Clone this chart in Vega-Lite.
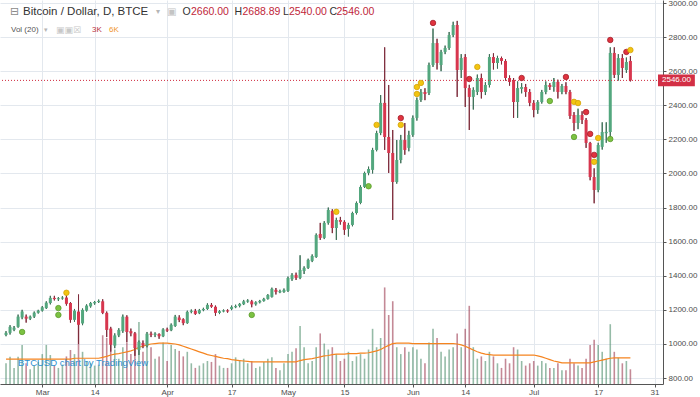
{
"$schema": "https://vega.github.io/schema/vega-lite/v6.json",
"width": 663, "height": 384,
"autosize": {"type": "none"},
"padding": {"left": 0, "top": 0, "right": 37, "bottom": 13},
"background": "#ffffff",
"config": {"view": {"stroke": null}, "font": "Liberation Sans",
  "axis": {"labelFont": "Liberation Sans", "labelFontSize": 8, "labelColor": "#4d4d4d", "gridColor": "#e3e8ee", "domainColor": "#555555", "tickColor": "#555555"}},
"datasets": {
"candles": [
{"d":"2017-02-20","o":1052,"h":1075,"l":1045,"c":1065,"v":4.5,"m":5.4},
{"d":"2017-02-21","o":1065,"h":1110,"l":1055,"c":1100,"v":5.9,"m":5.4},
{"d":"2017-02-22","o":1083,"h":1105,"l":1075,"c":1095,"v":3.5,"m":5.4},
{"d":"2017-02-23","o":1100,"h":1172,"l":1095,"c":1160,"v":5.9,"m":5.4},
{"d":"2017-02-24","o":1155,"h":1200,"l":1145,"c":1190,"v":8.5,"m":5.4},
{"d":"2017-02-25","o":1160,"h":1172,"l":1125,"c":1148,"v":4.5,"m":5.4},
{"d":"2017-02-26","o":1148,"h":1166,"l":1140,"c":1160,"v":3.2,"m":5.4},
{"d":"2017-02-27","o":1160,"h":1190,"l":1152,"c":1183,"v":4.0,"m":5.4},
{"d":"2017-02-28","o":1183,"h":1200,"l":1178,"c":1195,"v":4.8,"m":5.4},
{"d":"2017-03-01","o":1195,"h":1222,"l":1190,"c":1215,"v":6.5,"m":5.4},
{"d":"2017-03-02","o":1210,"h":1250,"l":1205,"c":1242,"v":8.5,"m":5.4},
{"d":"2017-03-03","o":1240,"h":1282,"l":1232,"c":1270,"v":6.3,"m":5.4},
{"d":"2017-03-04","o":1270,"h":1282,"l":1255,"c":1263,"v":4.0,"m":5.4},
{"d":"2017-03-05","o":1262,"h":1275,"l":1252,"c":1268,"v":3.5,"m":5.4},
{"d":"2017-03-06","o":1266,"h":1280,"l":1260,"c":1272,"v":4.2,"m":5.4},
{"d":"2017-03-07","o":1272,"h":1285,"l":1225,"c":1235,"v":6.0,"m":5.4},
{"d":"2017-03-08","o":1240,"h":1245,"l":1125,"c":1141,"v":7.4,"m":5.4},
{"d":"2017-03-09","o":1141,"h":1205,"l":1130,"c":1195,"v":6.5,"m":5.6},
{"d":"2017-03-10","o":1190,"h":1290,"l":1000,"c":1112,"v":14.0,"m":5.6},
{"d":"2017-03-11","o":1120,"h":1208,"l":1110,"c":1200,"v":7.0,"m":5.6},
{"d":"2017-03-12","o":1195,"h":1232,"l":1190,"c":1225,"v":5.0,"m":5.6},
{"d":"2017-03-13","o":1220,"h":1246,"l":1213,"c":1240,"v":4.5,"m":5.6},
{"d":"2017-03-14","o":1238,"h":1252,"l":1230,"c":1246,"v":4.0,"m":5.6},
{"d":"2017-03-15","o":1246,"h":1260,"l":1240,"c":1252,"v":4.2,"m":5.6},
{"d":"2017-03-16","o":1250,"h":1262,"l":1175,"c":1182,"v":10.6,"m":5.8},
{"d":"2017-03-17","o":1182,"h":1190,"l":1040,"c":1082,"v":10.0,"m":6.0},
{"d":"2017-03-18","o":1090,"h":1100,"l":955,"c":995,"v":12.0,"m":6.3},
{"d":"2017-03-19","o":990,"h":1062,"l":975,"c":1050,"v":7.5,"m":6.5},
{"d":"2017-03-20","o":1050,"h":1092,"l":1040,"c":1082,"v":5.5,"m":6.6},
{"d":"2017-03-21","o":1075,"h":1172,"l":1065,"c":1160,"v":8.0,"m":6.8},
{"d":"2017-03-22","o":1160,"h":1168,"l":1010,"c":1070,"v":9.0,"m":7.0},
{"d":"2017-03-23","o":1075,"h":1090,"l":1045,"c":1062,"v":6.5,"m":7.2},
{"d":"2017-03-24","o":1062,"h":1070,"l":930,"c":975,"v":11.0,"m":7.5},
{"d":"2017-03-25","o":965,"h":1020,"l":935,"c":1012,"v":13.5,"m":8.0},
{"d":"2017-03-26","o":1005,"h":1020,"l":975,"c":990,"v":7.0,"m":8.2},
{"d":"2017-03-27","o":990,"h":1070,"l":980,"c":1060,"v":8.5,"m":8.5},
{"d":"2017-03-28","o":1060,"h":1072,"l":1040,"c":1053,"v":8.0,"m":8.7},
{"d":"2017-03-29","o":1053,"h":1068,"l":1040,"c":1060,"v":5.5,"m":8.8},
{"d":"2017-03-30","o":1058,"h":1062,"l":1030,"c":1045,"v":6.0,"m":8.9},
{"d":"2017-03-31","o":1045,"h":1092,"l":1040,"c":1085,"v":9.0,"m":8.9},
{"d":"2017-04-01","o":1085,"h":1095,"l":1070,"c":1078,"v":5.0,"m":8.9},
{"d":"2017-04-02","o":1080,"h":1120,"l":1075,"c":1112,"v":8.5,"m":8.8},
{"d":"2017-04-03","o":1105,"h":1170,"l":1100,"c":1160,"v":7.6,"m":8.7},
{"d":"2017-04-04","o":1155,"h":1168,"l":1128,"c":1140,"v":7.2,"m":8.5},
{"d":"2017-04-05","o":1145,"h":1150,"l":1110,"c":1122,"v":6.0,"m":8.2},
{"d":"2017-04-06","o":1122,"h":1195,"l":1118,"c":1188,"v":7.0,"m":7.9},
{"d":"2017-04-07","o":1188,"h":1202,"l":1180,"c":1194,"v":4.5,"m":7.6},
{"d":"2017-04-08","o":1194,"h":1205,"l":1170,"c":1176,"v":3.5,"m":7.3},
{"d":"2017-04-09","o":1180,"h":1205,"l":1175,"c":1198,"v":4.0,"m":7.0},
{"d":"2017-04-10","o":1198,"h":1212,"l":1192,"c":1205,"v":4.5,"m":6.7},
{"d":"2017-04-11","o":1205,"h":1238,"l":1200,"c":1229,"v":5.0,"m":6.4},
{"d":"2017-04-12","o":1229,"h":1240,"l":1212,"c":1218,"v":4.8,"m":6.2},
{"d":"2017-04-13","o":1218,"h":1225,"l":1165,"c":1182,"v":6.5,"m":6.0},
{"d":"2017-04-14","o":1182,"h":1198,"l":1175,"c":1192,"v":4.0,"m":5.8},
{"d":"2017-04-15","o":1190,"h":1202,"l":1186,"c":1197,"v":3.5,"m":5.6},
{"d":"2017-04-16","o":1197,"h":1203,"l":1183,"c":1190,"v":3.5,"m":5.5},
{"d":"2017-04-17","o":1205,"h":1225,"l":1198,"c":1217,"v":4.5,"m":5.3},
{"d":"2017-04-18","o":1215,"h":1230,"l":1210,"c":1222,"v":5.8,"m":5.2},
{"d":"2017-04-19","o":1223,"h":1240,"l":1215,"c":1235,"v":5.0,"m":5.1},
{"d":"2017-04-20","o":1233,"h":1258,"l":1228,"c":1250,"v":5.5,"m":5.0},
{"d":"2017-04-21","o":1248,"h":1262,"l":1242,"c":1255,"v":4.5,"m":4.9},
{"d":"2017-04-22","o":1250,"h":1258,"l":1215,"c":1232,"v":5.0,"m":4.8},
{"d":"2017-04-23","o":1232,"h":1250,"l":1225,"c":1244,"v":3.5,"m":4.8},
{"d":"2017-04-24","o":1244,"h":1258,"l":1238,"c":1252,"v":3.8,"m":4.8},
{"d":"2017-04-25","o":1252,"h":1270,"l":1248,"c":1264,"v":4.8,"m":4.8},
{"d":"2017-04-26","o":1264,"h":1292,"l":1260,"c":1287,"v":5.5,"m":4.8},
{"d":"2017-04-27","o":1276,"h":1330,"l":1272,"c":1323,"v":5.8,"m":4.8},
{"d":"2017-04-28","o":1317,"h":1328,"l":1290,"c":1305,"v":3.5,"m":4.8},
{"d":"2017-04-29","o":1303,"h":1318,"l":1298,"c":1310,"v":3.0,"m":4.8},
{"d":"2017-04-30","o":1305,"h":1325,"l":1300,"c":1317,"v":4.5,"m":4.8},
{"d":"2017-05-01","o":1311,"h":1395,"l":1305,"c":1387,"v":6.5,"m":4.8},
{"d":"2017-05-02","o":1380,"h":1415,"l":1370,"c":1405,"v":7.0,"m":4.8},
{"d":"2017-05-03","o":1405,"h":1418,"l":1375,"c":1387,"v":7.8,"m":4.8},
{"d":"2017-05-04","o":1387,"h":1520,"l":1380,"c":1434,"v":12.6,"m":5.1},
{"d":"2017-05-05","o":1428,"h":1455,"l":1410,"c":1446,"v":8.0,"m":5.3},
{"d":"2017-05-06","o":1446,"h":1500,"l":1440,"c":1493,"v":4.5,"m":5.4},
{"d":"2017-05-07","o":1487,"h":1525,"l":1480,"c":1516,"v":5.0,"m":5.5},
{"d":"2017-05-08","o":1510,"h":1648,"l":1505,"c":1639,"v":8.0,"m":5.7},
{"d":"2017-05-09","o":1645,"h":1710,"l":1610,"c":1622,"v":11.0,"m":5.9},
{"d":"2017-05-10","o":1622,"h":1720,"l":1615,"c":1710,"v":8.8,"m":6.1},
{"d":"2017-05-11","o":1710,"h":1800,"l":1700,"c":1786,"v":7.5,"m":6.2},
{"d":"2017-05-12","o":1780,"h":1790,"l":1650,"c":1680,"v":8.0,"m":6.4},
{"d":"2017-05-13","o":1680,"h":1740,"l":1610,"c":1727,"v":6.5,"m":6.5},
{"d":"2017-05-14","o":1727,"h":1745,"l":1700,"c":1716,"v":5.0,"m":6.5},
{"d":"2017-05-15","o":1716,"h":1725,"l":1640,"c":1669,"v":5.5,"m":6.5},
{"d":"2017-05-16","o":1675,"h":1710,"l":1630,"c":1698,"v":7.0,"m":6.6},
{"d":"2017-05-17","o":1698,"h":1775,"l":1690,"c":1768,"v":5.0,"m":6.6},
{"d":"2017-05-18","o":1768,"h":1835,"l":1760,"c":1827,"v":6.0,"m":6.6},
{"d":"2017-05-19","o":1827,"h":1930,"l":1820,"c":1921,"v":6.5,"m":6.7},
{"d":"2017-05-20","o":1921,"h":2010,"l":1915,"c":2003,"v":5.5,"m":6.7},
{"d":"2017-05-21","o":2003,"h":2040,"l":1990,"c":2026,"v":7.5,"m":6.8},
{"d":"2017-05-22","o":2021,"h":2150,"l":2000,"c":2138,"v":12.0,"m":7.0},
{"d":"2017-05-23","o":2138,"h":2250,"l":2130,"c":2237,"v":8.0,"m":7.2},
{"d":"2017-05-24","o":2237,"h":2460,"l":2225,"c":2414,"v":10.0,"m":7.5},
{"d":"2017-05-25","o":2414,"h":2740,"l":2138,"c":2214,"v":21.0,"m":8.0},
{"d":"2017-05-26","o":2214,"h":2519,"l":2003,"c":2120,"v":15.0,"m":8.4},
{"d":"2017-05-27","o":2120,"h":2255,"l":1727,"c":1950,"v":18.0,"m":8.8},
{"d":"2017-05-28","o":1950,"h":2196,"l":1940,"c":2079,"v":8.0,"m":8.9},
{"d":"2017-05-29","o":2079,"h":2226,"l":2060,"c":2196,"v":6.5,"m":8.9},
{"d":"2017-05-30","o":2196,"h":2296,"l":2110,"c":2138,"v":8.0,"m":8.9},
{"d":"2017-05-31","o":2150,"h":2250,"l":2130,"c":2226,"v":7.0,"m":8.9},
{"d":"2017-06-01","o":2226,"h":2340,"l":2215,"c":2326,"v":8.0,"m":8.8},
{"d":"2017-06-02","o":2326,"h":2445,"l":2310,"c":2431,"v":7.5,"m":8.8},
{"d":"2017-06-03","o":2431,"h":2495,"l":2420,"c":2478,"v":5.5,"m":8.8},
{"d":"2017-06-04","o":2478,"h":2500,"l":2430,"c":2466,"v":4.5,"m":8.8},
{"d":"2017-06-05","o":2472,"h":2650,"l":2460,"c":2636,"v":9.0,"m":8.8},
{"d":"2017-06-06","o":2636,"h":2850,"l":2625,"c":2765,"v":12.0,"m":8.8},
{"d":"2017-06-07","o":2765,"h":2790,"l":2610,"c":2648,"v":10.0,"m":8.8},
{"d":"2017-06-08","o":2636,"h":2725,"l":2600,"c":2713,"v":7.0,"m":8.8},
{"d":"2017-06-09","o":2713,"h":2750,"l":2700,"c":2736,"v":6.0,"m":8.8},
{"d":"2017-06-10","o":2736,"h":2830,"l":2725,"c":2812,"v":7.5,"m":8.8},
{"d":"2017-06-11","o":2812,"h":2890,"l":2800,"c":2871,"v":8.0,"m":8.8},
{"d":"2017-06-12","o":2871,"h":2895,"l":2449,"c":2607,"v":11.0,"m":8.7},
{"d":"2017-06-13","o":2607,"h":2700,"l":2560,"c":2677,"v":8.0,"m":8.5},
{"d":"2017-06-14","o":2683,"h":2700,"l":2390,"c":2501,"v":12.0,"m":8.2},
{"d":"2017-06-15","o":2501,"h":2520,"l":2255,"c":2449,"v":17.0,"m":7.8},
{"d":"2017-06-16","o":2449,"h":2505,"l":2375,"c":2490,"v":8.0,"m":7.4},
{"d":"2017-06-17","o":2478,"h":2580,"l":2460,"c":2560,"v":5.5,"m":7.0},
{"d":"2017-06-18","o":2560,"h":2585,"l":2440,"c":2478,"v":6.0,"m":6.7},
{"d":"2017-06-19","o":2478,"h":2535,"l":2460,"c":2519,"v":5.0,"m":6.5},
{"d":"2017-06-20","o":2519,"h":2700,"l":2505,"c":2683,"v":7.0,"m":6.4},
{"d":"2017-06-21","o":2683,"h":2705,"l":2610,"c":2648,"v":6.0,"m":6.3},
{"d":"2017-06-22","o":2648,"h":2690,"l":2615,"c":2677,"v":4.5,"m":6.3},
{"d":"2017-06-23","o":2677,"h":2685,"l":2640,"c":2660,"v":3.5,"m":6.3},
{"d":"2017-06-24","o":2660,"h":2670,"l":2545,"c":2560,"v":5.5,"m":6.3},
{"d":"2017-06-25","o":2560,"h":2575,"l":2515,"c":2537,"v":4.5,"m":6.3},
{"d":"2017-06-26","o":2548,"h":2560,"l":2326,"c":2419,"v":8.0,"m":6.3},
{"d":"2017-06-27","o":2419,"h":2540,"l":2326,"c":2501,"v":7.5,"m":6.3},
{"d":"2017-06-28","o":2496,"h":2530,"l":2470,"c":2507,"v":5.0,"m":6.3},
{"d":"2017-06-29","o":2507,"h":2525,"l":2450,"c":2478,"v":4.0,"m":6.3},
{"d":"2017-06-30","o":2478,"h":2495,"l":2395,"c":2414,"v":4.5,"m":6.3},
{"d":"2017-07-01","o":2414,"h":2430,"l":2330,"c":2372,"v":5.0,"m":6.3},
{"d":"2017-07-02","o":2372,"h":2430,"l":2350,"c":2419,"v":4.0,"m":6.1},
{"d":"2017-07-03","o":2419,"h":2490,"l":2410,"c":2478,"v":5.0,"m":5.9},
{"d":"2017-07-04","o":2478,"h":2540,"l":2465,"c":2519,"v":4.5,"m":5.6},
{"d":"2017-07-05","o":2519,"h":2530,"l":2490,"c":2507,"v":3.5,"m":5.3},
{"d":"2017-07-06","o":2507,"h":2560,"l":2480,"c":2537,"v":3.5,"m":5.0},
{"d":"2017-07-07","o":2537,"h":2550,"l":2440,"c":2478,"v":4.5,"m":4.8},
{"d":"2017-07-08","o":2478,"h":2525,"l":2465,"c":2513,"v":3.0,"m":4.6},
{"d":"2017-07-09","o":2513,"h":2535,"l":2465,"c":2478,"v":3.0,"m":4.6},
{"d":"2017-07-10","o":2478,"h":2490,"l":2320,"c":2337,"v":5.5,"m":4.6},
{"d":"2017-07-11","o":2343,"h":2360,"l":2250,"c":2296,"v":4.5,"m":4.6},
{"d":"2017-07-12","o":2296,"h":2380,"l":2260,"c":2343,"v":4.0,"m":4.6},
{"d":"2017-07-13","o":2343,"h":2365,"l":2290,"c":2314,"v":3.5,"m":4.6},
{"d":"2017-07-14","o":2314,"h":2325,"l":2150,"c":2179,"v":5.5,"m":4.6},
{"d":"2017-07-15","o":2179,"h":2185,"l":1960,"c":1979,"v":8.5,"m":4.6},
{"d":"2017-07-16","o":1979,"h":2030,"l":1825,"c":1903,"v":9.6,"m":4.8},
{"d":"2017-07-17","o":1903,"h":2180,"l":1890,"c":2167,"v":8.5,"m":5.0},
{"d":"2017-07-18","o":2156,"h":2300,"l":2140,"c":2243,"v":7.0,"m":5.2},
{"d":"2017-07-19","o":2236,"h":2300,"l":2180,"c":2244,"v":5.5,"m":5.4},
{"d":"2017-07-20","o":2243,"h":2740,"l":2200,"c":2707,"v":13.0,"m":5.6},
{"d":"2017-07-21","o":2707,"h":2740,"l":2560,"c":2578,"v":7.0,"m":5.7},
{"d":"2017-07-22","o":2578,"h":2700,"l":2545,"c":2677,"v":5.7,"m":5.7},
{"d":"2017-07-23","o":2677,"h":2700,"l":2560,"c":2619,"v":4.5,"m":5.7},
{"d":"2017-07-24","o":2607,"h":2680,"l":2590,"c":2654,"v":5.0,"m":5.7},
{"d":"2017-07-25","o":2660,"h":2688.89,"l":2540,"c":2546,"v":3.2,"m":5.7}
],
"signals": [
{"d":"2017-02-24","p":1070,"k":"green"},
{"d":"2017-03-05","p":1210,"k":"green"},
{"d":"2017-03-05","p":1170,"k":"green"},
{"d":"2017-03-07","p":1300,"k":"yellow"},
{"d":"2017-04-22","p":1170,"k":"green"},
{"d":"2017-05-13","p":1775,"k":"yellow"},
{"d":"2017-05-21","p":1925,"k":"green"},
{"d":"2017-05-23","p":2285,"k":"yellow"},
{"d":"2017-05-29","p":2325,"k":"red"},
{"d":"2017-05-29","p":2285,"k":"yellow"},
{"d":"2017-06-02","p":2507,"k":"yellow"},
{"d":"2017-06-02","p":2466,"k":"yellow"},
{"d":"2017-06-03","p":2531,"k":"yellow"},
{"d":"2017-06-06","p":2883,"k":"red"},
{"d":"2017-06-15","p":2554,"k":"red"},
{"d":"2017-06-17","p":2625,"k":"yellow"},
{"d":"2017-06-28","p":2560,"k":"red"},
{"d":"2017-07-05","p":2425,"k":"green"},
{"d":"2017-07-09","p":2566,"k":"red"},
{"d":"2017-07-11","p":2420,"k":"yellow"},
{"d":"2017-07-12","p":2413,"k":"yellow"},
{"d":"2017-07-11","p":2214,"k":"green"},
{"d":"2017-07-14","p":2360,"k":"red"},
{"d":"2017-07-15","p":2232,"k":"red"},
{"d":"2017-07-16","p":2109,"k":"red"},
{"d":"2017-07-16","p":2068,"k":"yellow"},
{"d":"2017-07-17","p":2208,"k":"yellow"},
{"d":"2017-07-20","p":2202,"k":"green"},
{"d":"2017-07-20","p":2783,"k":"red"},
{"d":"2017-07-24","p":2713,"k":"red"},
{"d":"2017-07-25","p":2724,"k":"yellow"}
],
"header": [{}]
},
"layer": [
  {"data": {"name": "candles"},
   "mark": {"type": "rule", "strokeWidth": 1},
   "encoding": {
    "x": {"field": "d", "type": "temporal",
          "scale": {"type": "utc", "domain": [{"year": 2017, "month": 2, "date": 19, "hours": 18, "utc": true}, {"year": 2017, "month": 7, "date": 31, "hours": 20, "minutes": 24, "utc": true}]},
          "axis": {"title": null, "grid": true, "tickSize": 3, "labelPadding": 1, "labelFlush": false, "labelOverlap": false,
                   "values": [{"year": 2017, "month": 3, "date": 1, "utc": true}, {"year": 2017, "month": 3, "date": 14, "utc": true}, {"year": 2017, "month": 4, "date": 1, "utc": true}, {"year": 2017, "month": 4, "date": 17, "utc": true}, {"year": 2017, "month": 5, "date": 1, "utc": true}, {"year": 2017, "month": 5, "date": 15, "utc": true}, {"year": 2017, "month": 6, "date": 1, "utc": true}, {"year": 2017, "month": 6, "date": 14, "utc": true}, {"year": 2017, "month": 7, "date": 1, "utc": true}, {"year": 2017, "month": 7, "date": 17, "utc": true}, {"year": 2017, "month": 7, "date": 31, "utc": true}],
                   "labelExpr": "utcdate(datum.value) == 1 ? utcFormat(datum.value, '%b') : utcFormat(datum.value, '%d')"}},
    "y": {"field": "l", "type": "quantitative",
          "scale": {"domain": [764.8, 3017.6], "nice": false, "zero": false},
          "axis": {"title": null, "orient": "right", "grid": true, "tickSize": 3, "labelPadding": 2, "format": ".2f", "labelOverlap": false,
                   "values": [800, 1000, 1200, 1400, 1600, 1800, 2000, 2200, 2400, 2600, 2800, 3000]}},
    "y2": {"field": "h"},
    "color": {"condition": {"test": "datum.c >= datum.o", "value": "#3b6f56"}, "value": "#7d2b3a"}}},
  {"data": {"name": "candles"},
   "mark": {"type": "bar", "size": 1.6, "opacity": 0.6},
   "encoding": {
    "x": {"field": "d", "type": "temporal"},
    "y": {"field": "v", "type": "quantitative", "scale": {"domain": [0, 83.5], "nice": false}, "axis": null},
    "color": {"condition": {"test": "datum.c >= datum.o", "value": "#4f8d6d"}, "value": "#9c3b50"}}},
  {"data": {"name": "candles"},
   "mark": {"type": "line", "color": "#f5841f", "strokeWidth": 1.2},
   "encoding": {
    "x": {"field": "d", "type": "temporal"},
    "y": {"field": "m", "type": "quantitative", "scale": {"domain": [0, 83.5], "nice": false}, "axis": null}}},
  {"data": {"name": "candles"},
   "mark": {"type": "rule", "strokeWidth": 1},
   "encoding": {
    "x": {"field": "d", "type": "temporal"},
    "y": {"field": "l", "type": "quantitative", "scale": {"domain": [764.8, 3017.6], "nice": false, "zero": false}, "axis": null},
    "y2": {"field": "h"},
    "color": {"condition": {"test": "datum.c >= datum.o", "value": "#3b6f56"}, "value": "#7d2b3a"}}},
  {"data": {"name": "candles"},
   "mark": {"type": "bar", "size": 3},
   "encoding": {
    "x": {"field": "d", "type": "temporal"},
    "y": {"field": "o", "type": "quantitative", "scale": {"domain": [764.8, 3017.6], "nice": false, "zero": false}, "axis": null},
    "y2": {"field": "c"},
    "color": {"condition": {"test": "datum.c >= datum.o", "value": "#53a77e"}, "value": "#d7364e"}}},
  {"data": {"name": "header"},
   "mark": {"type": "rule", "color": "#d0283d", "strokeDash": [1, 2], "strokeWidth": 1},
   "encoding": {"y": {"datum": 2546, "scale": {"domain": [764.8, 3017.6], "nice": false, "zero": false}, "axis": null}}},
  {"data": {"name": "signals"},
   "mark": {"type": "point", "filled": true, "size": 30, "strokeWidth": 0.8, "opacity": 1},
   "encoding": {
    "x": {"field": "d", "type": "temporal"},
    "y": {"field": "p", "type": "quantitative", "scale": {"domain": [764.8, 3017.6], "nice": false, "zero": false}, "axis": null},
    "color": {"field": "k", "type": "nominal", "scale": {"domain": ["red", "yellow", "green"], "range": ["#e0333f", "#f2c511", "#7cc242"]}, "legend": null},
    "stroke": {"field": "k", "type": "nominal", "scale": {"domain": ["red", "yellow", "green"], "range": ["#a3202b", "#d4a20a", "#5c9a2c"]}, "legend": null}}},
  {"data": {"name": "header"},
   "mark": {"type": "rect", "color": "#d32f45", "clip": false},
   "encoding": {"x": {"datum": {"year": 2017, "month": 7, "date": 31, "hours": 20, "minutes": 24, "utc": true}},
                "x2": {"datum": {"year": 2017, "month": 8, "date": 10, "utc": true}},
                "y": {"datum": 2581, "scale": {"domain": [764.8, 3017.6], "nice": false, "zero": false}, "axis": null}, "y2": {"datum": 2511}}},
  {"data": {"name": "header"},
   "mark": {"type": "text", "color": "#ffffff", "fontSize": 8, "align": "left", "baseline": "middle", "dx": 4, "clip": false},
   "encoding": {"x": {"datum": {"year": 2017, "month": 7, "date": 31, "hours": 20, "minutes": 24, "utc": true}},
                "y": {"datum": 2546, "scale": {"domain": [764.8, 3017.6], "nice": false, "zero": false}, "axis": null}, "text": {"value": "2546.00"}}},
  {"data": {"name": "header"},
   "mark": {"type": "text", "color": "#2b8fd0", "fontSize": 9.5, "align": "left", "baseline": "middle", "dx": 13},
   "encoding": {"x": {"datum": {"year": 2017, "month": 2, "date": 19, "hours": 18, "utc": true}},
                "y": {"datum": 888, "scale": {"domain": [764.8, 3017.6], "nice": false, "zero": false}, "axis": null}, "text": {"value": "BTCUSD chart by TradingView"}}},
  {"data": {"name": "header"},
   "mark": {"type": "text", "color": "#8a8a8a", "font": "DejaVu Sans", "fontSize": 11, "align": "left", "baseline": "middle", "dx": 5},
   "encoding": {"x": {"datum": {"year": 2017, "month": 2, "date": 19, "hours": 18, "utc": true}},
                "y": {"datum": 2947, "scale": {"domain": [764.8, 3017.6], "nice": false, "zero": false}, "axis": null}, "text": {"value": "⊟"}}},
  {"data": {"name": "header"},
   "mark": {"type": "text", "color": "#333333", "fontSize": 11.5, "align": "left", "baseline": "middle", "dx": 18},
   "encoding": {"x": {"datum": {"year": 2017, "month": 2, "date": 19, "hours": 18, "utc": true}},
                "y": {"datum": 2947, "scale": {"domain": [764.8, 3017.6], "nice": false, "zero": false}, "axis": null}, "text": {"value": "Bitcoin / Dollar, D, BTCE"}}},
  {"data": {"name": "header"},
   "mark": {"type": "text", "color": "#b5b5b5", "font": "DejaVu Sans", "fontSize": 8, "align": "left", "baseline": "middle", "dx": 151},
   "encoding": {"x": {"datum": {"year": 2017, "month": 2, "date": 19, "hours": 18, "utc": true}},
                "y": {"datum": 2947, "scale": {"domain": [764.8, 3017.6], "nice": false, "zero": false}, "axis": null}, "text": {"value": "▾"}}},
  {"data": {"name": "header"},
   "mark": {"type": "text", "color": "#c4c4c4", "font": "DejaVu Sans", "fontSize": 10, "align": "left", "baseline": "middle", "dx": 162},
   "encoding": {"x": {"datum": {"year": 2017, "month": 2, "date": 19, "hours": 18, "utc": true}},
                "y": {"datum": 2947, "scale": {"domain": [764.8, 3017.6], "nice": false, "zero": false}, "axis": null}, "text": {"value": "▣"}}},
  {"data": {"name": "header"},
   "mark": {"type": "text", "color": "#333333", "fontSize": 10.5, "align": "left", "baseline": "middle", "dx": 177.5},
   "encoding": {"x": {"datum": {"year": 2017, "month": 2, "date": 19, "hours": 18, "utc": true}},
                "y": {"datum": 2947, "scale": {"domain": [764.8, 3017.6], "nice": false, "zero": false}, "axis": null}, "text": {"value": "O"}}},
  {"data": {"name": "header"},
   "mark": {"type": "text", "color": "#c0263a", "fontSize": 10.5, "align": "left", "baseline": "middle", "dx": 186},
   "encoding": {"x": {"datum": {"year": 2017, "month": 2, "date": 19, "hours": 18, "utc": true}},
                "y": {"datum": 2947, "scale": {"domain": [764.8, 3017.6], "nice": false, "zero": false}, "axis": null}, "text": {"value": "2660.00"}}},
  {"data": {"name": "header"},
   "mark": {"type": "text", "color": "#333333", "fontSize": 10.5, "align": "left", "baseline": "middle", "dx": 229.5},
   "encoding": {"x": {"datum": {"year": 2017, "month": 2, "date": 19, "hours": 18, "utc": true}},
                "y": {"datum": 2947, "scale": {"domain": [764.8, 3017.6], "nice": false, "zero": false}, "axis": null}, "text": {"value": "H"}}},
  {"data": {"name": "header"},
   "mark": {"type": "text", "color": "#c0263a", "fontSize": 10.5, "align": "left", "baseline": "middle", "dx": 237.5},
   "encoding": {"x": {"datum": {"year": 2017, "month": 2, "date": 19, "hours": 18, "utc": true}},
                "y": {"datum": 2947, "scale": {"domain": [764.8, 3017.6], "nice": false, "zero": false}, "axis": null}, "text": {"value": "2688.89"}}},
  {"data": {"name": "header"},
   "mark": {"type": "text", "color": "#333333", "fontSize": 10.5, "align": "left", "baseline": "middle", "dx": 278},
   "encoding": {"x": {"datum": {"year": 2017, "month": 2, "date": 19, "hours": 18, "utc": true}},
                "y": {"datum": 2947, "scale": {"domain": [764.8, 3017.6], "nice": false, "zero": false}, "axis": null}, "text": {"value": "L"}}},
  {"data": {"name": "header"},
   "mark": {"type": "text", "color": "#c0263a", "fontSize": 10.5, "align": "left", "baseline": "middle", "dx": 284},
   "encoding": {"x": {"datum": {"year": 2017, "month": 2, "date": 19, "hours": 18, "utc": true}},
                "y": {"datum": 2947, "scale": {"domain": [764.8, 3017.6], "nice": false, "zero": false}, "axis": null}, "text": {"value": "2540.00"}}},
  {"data": {"name": "header"},
   "mark": {"type": "text", "color": "#333333", "fontSize": 10.5, "align": "left", "baseline": "middle", "dx": 324.5},
   "encoding": {"x": {"datum": {"year": 2017, "month": 2, "date": 19, "hours": 18, "utc": true}},
                "y": {"datum": 2947, "scale": {"domain": [764.8, 3017.6], "nice": false, "zero": false}, "axis": null}, "text": {"value": "C"}}},
  {"data": {"name": "header"},
   "mark": {"type": "text", "color": "#c0263a", "fontSize": 10.5, "align": "left", "baseline": "middle", "dx": 331.5},
   "encoding": {"x": {"datum": {"year": 2017, "month": 2, "date": 19, "hours": 18, "utc": true}},
                "y": {"datum": 2947, "scale": {"domain": [764.8, 3017.6], "nice": false, "zero": false}, "axis": null}, "text": {"value": "2546.00"}}},
  {"data": {"name": "header"},
   "mark": {"type": "text", "color": "#555555", "fontSize": 8, "align": "left", "baseline": "middle", "dx": 6},
   "encoding": {"x": {"datum": {"year": 2017, "month": 2, "date": 19, "hours": 18, "utc": true}},
                "y": {"datum": 2841.6, "scale": {"domain": [764.8, 3017.6], "nice": false, "zero": false}, "axis": null}, "text": {"value": "Vol (20)"}}},
  {"data": {"name": "header"},
   "mark": {"type": "text", "color": "#b5b5b5", "font": "DejaVu Sans", "fontSize": 7, "align": "left", "baseline": "middle", "dx": 39},
   "encoding": {"x": {"datum": {"year": 2017, "month": 2, "date": 19, "hours": 18, "utc": true}},
                "y": {"datum": 2841.6, "scale": {"domain": [764.8, 3017.6], "nice": false, "zero": false}, "axis": null}, "text": {"value": "▾"}}},
  {"data": {"name": "header"},
   "mark": {"type": "text", "color": "#c8c8c8", "font": "DejaVu Sans", "fontSize": 9, "align": "left", "baseline": "middle", "dx": 51},
   "encoding": {"x": {"datum": {"year": 2017, "month": 2, "date": 19, "hours": 18, "utc": true}},
                "y": {"datum": 2841.6, "scale": {"domain": [764.8, 3017.6], "nice": false, "zero": false}, "axis": null}, "text": {"value": "▣▣☒"}}},
  {"data": {"name": "header"},
   "mark": {"type": "text", "color": "#b9333f", "fontSize": 8, "align": "left", "baseline": "middle", "dx": 87},
   "encoding": {"x": {"datum": {"year": 2017, "month": 2, "date": 19, "hours": 18, "utc": true}},
                "y": {"datum": 2841.6, "scale": {"domain": [764.8, 3017.6], "nice": false, "zero": false}, "axis": null}, "text": {"value": "3K"}}},
  {"data": {"name": "header"},
   "mark": {"type": "text", "color": "#f0962e", "fontSize": 8, "align": "left", "baseline": "middle", "dx": 104},
   "encoding": {"x": {"datum": {"year": 2017, "month": 2, "date": 19, "hours": 18, "utc": true}},
                "y": {"datum": 2841.6, "scale": {"domain": [764.8, 3017.6], "nice": false, "zero": false}, "axis": null}, "text": {"value": "6K"}}}
],
"resolve": {"scale": {"y": "independent"}}
}
